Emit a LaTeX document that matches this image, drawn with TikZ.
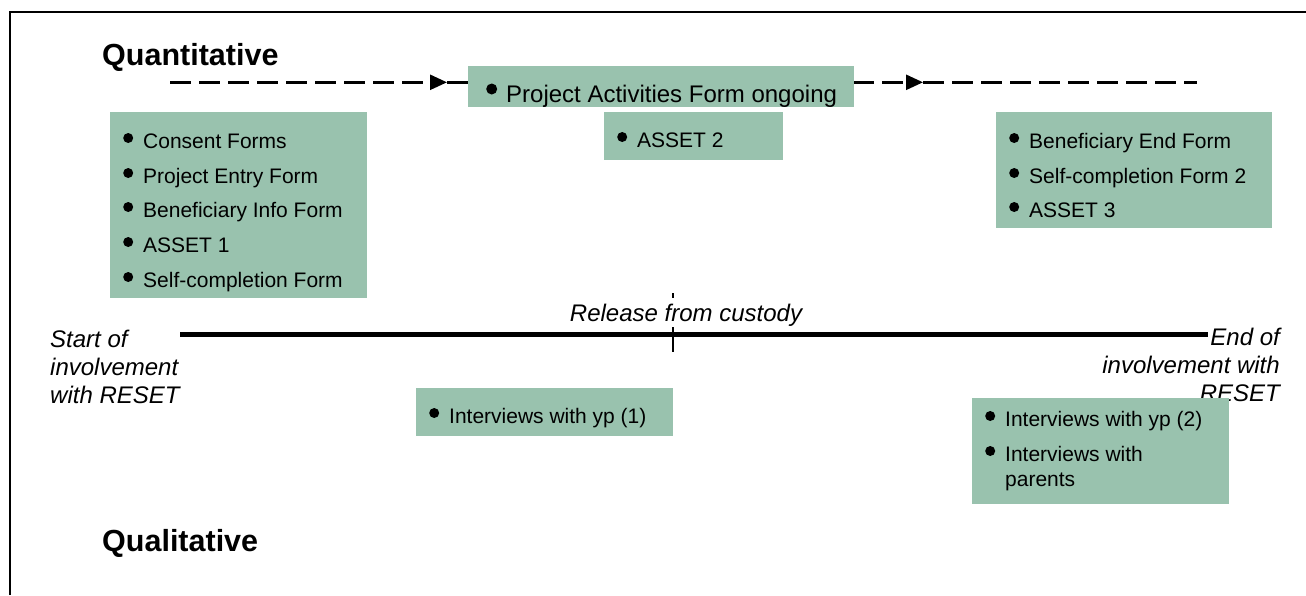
\documentclass[tikz,border=0pt]{standalone}
\usepackage{fontspec}
\setmainfont{Liberation Sans}
\usetikzlibrary{arrows.meta}
\definecolor{boxgreen}{RGB}{153,194,174}
\newcommand\bul[2]{\makebox[20pt][l]{\tikz[baseline=0pt]\fill (#1,#2) circle (#1);}}
\tikzset{
  gbox/.style={draw=none, fill=boxgreen, rectangle, inner sep=0pt, anchor=north west},
  itm/.style={inner sep=0pt, anchor=base west, font=\fontsize{21}{25}\selectfont},
  bigitm/.style={inner sep=0pt, anchor=base west, font=\fontsize{24}{28}\selectfont},
  heading/.style={inner sep=0pt, anchor=base west, font=\fontsize{30.5}{36}\selectfont\bfseries},
  lbl/.style={inner sep=0pt, font=\fontsize{24}{28}\selectfont\itshape},
  flow/.style={line width=2.5pt, dash pattern=on 21pt off 8pt},
  tipA/.style={-{Triangle[length=17pt,width=15pt]}}
}
\begin{document}
\begin{tikzpicture}[x=1pt,y=-1pt]
\useasboundingbox (0,0) rectangle (1306,595);
% frame
\coordinate (fbl) at (10,595);
\coordinate (ftl) at (10,12);
\coordinate (ftr) at (1306,12);
\draw[line width=2pt] (fbl) -- (ftl) -- (ftr);

% headings
\node[heading] (quant) at (102,65) {Quantitative};
\node[heading] (qual) at (102,551) {Qualitative};

% dashed flow line with arrows
\coordinate (d0) at (170,82.3);
\coordinate (a1) at (447,82.3);
\coordinate (a2) at (923,82.3);
\coordinate (d3) at (1197,82.3);
\draw[flow,tipA] (d0) -- (a1);
\draw[flow,tipA] (a1) -- (a2);
\draw[flow] (a2) -- (d3);

% boxes top
\node[gbox, minimum width=257pt, minimum height=186pt] (b1) at (110,112) {};
\node[gbox, minimum width=386pt, minimum height=41pt] (b2) at (468,66) {};
\node[gbox, minimum width=179pt, minimum height=48pt] (b3) at (604,112) {};
\node[gbox, minimum width=276pt, minimum height=116pt] (b4) at (996,112) {};

\node[itm] (t11) at (123,148) {\bul{5pt}{10pt}Consent Forms};
\node[itm] (t12) at (123,183) {\bul{5pt}{10pt}Project Entry Form};
\node[itm] (t13) at (123,217) {\bul{5pt}{10pt}Beneficiary Info Form};
\node[itm] (t14) at (123,252) {\bul{5pt}{10pt}ASSET 1};
\node[itm] (t15) at (123,287) {\bul{5pt}{10pt}Self-completion Form};

\node[bigitm] (t21) at (486,102) {\bul{5.5pt}{13pt}Project Activities Form ongoing};
\node[itm] (t31) at (617,147) {\bul{5pt}{10pt}ASSET 2};

\node[itm] (t41) at (1009,148) {\bul{5pt}{10pt}Beneficiary End Form};
\node[itm] (t42) at (1009,183) {\bul{5pt}{10pt}Self-completion Form 2};
\node[itm] (t43) at (1009,217) {\bul{5pt}{10pt}ASSET 3};

% timeline
\coordinate (tl0) at (180,334.5);
\coordinate (tl1) at (1208,334.5);
\draw[line width=5pt] (tl0) -- (tl1);
\coordinate (tk0) at (673,293);
\coordinate (tk1) at (673,352);
\draw[line width=1.5pt] (tk0) -- (tk1);
\node[lbl, anchor=base, fill=white, text height=20pt, text depth=3pt, inner ysep=3pt, inner xsep=2pt] (rel) at (686,321) {Release from custody};

\node[lbl, anchor=base west] (s1) at (50,347) {Start of};
\node[lbl, anchor=base west] (s2) at (50,375) {involvement};
\node[lbl, anchor=base west] (s3) at (50,403) {with RESET};

\node[lbl, anchor=base east] (e1) at (1280,345) {End of};
\node[lbl, anchor=base east] (e2) at (1280,373) {involvement with};
\node[lbl, anchor=base east] (e3) at (1280,401) {RESET};

% qualitative boxes
\node[gbox, minimum width=257pt, minimum height=48pt] (b5) at (416,388) {};
\node[itm] (t51) at (429,423) {\bul{5pt}{10pt}Interviews with yp (1)};

\node[gbox, minimum width=257pt, minimum height=106pt] (b6) at (972,398) {};
\node[itm] (t61) at (985,426) {\bul{5pt}{10pt}Interviews with yp (2)};
\node[itm] (t62) at (985,461) {\bul{5pt}{10pt}Interviews with};
\node[itm] (t63) at (1005,486) {parents};
\end{tikzpicture}
\end{document}
